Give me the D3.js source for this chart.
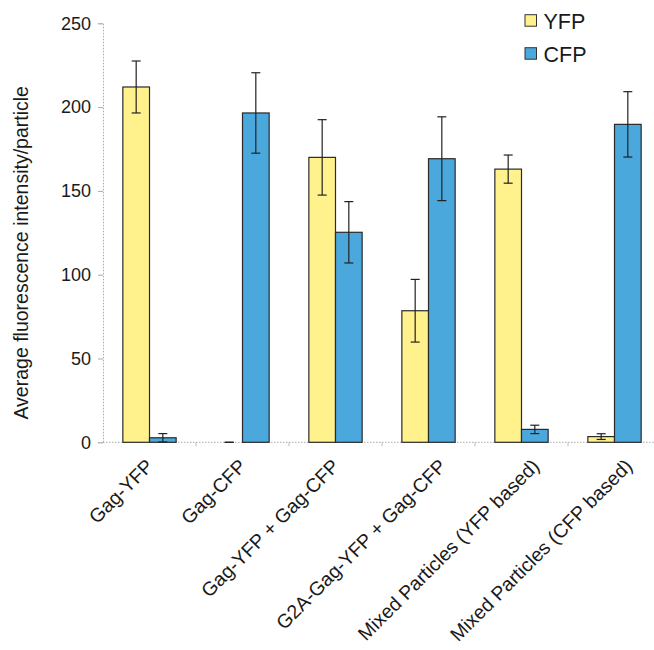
<!DOCTYPE html>
<html>
<head>
<meta charset="utf-8">
<script src="https://cdn.jsdelivr.net/npm/d3@7"></script>
<style>
  html, body { margin: 0; padding: 0; background: #fff; }
  svg { display: block; }
  text { font-family: "Liberation Sans", Arial, Helvetica, sans-serif; fill: #1a1a1a; }
</style>
</head>
<body>
<svg id="chart" width="654" height="650"></svg>
<script>
// Average fluorescence intensity per particle, YFP vs CFP channel
const categories = [
  "Gag-YFP",
  "Gag-CFP",
  "Gag-YFP + Gag-CFP",
  "G2A-Gag-YFP + Gag-CFP",
  "Mixed Particles (YFP based)",
  "Mixed Particles (CFP based)"
];
const seriesNames = ["YFP", "CFP"];
const yfpValues = [212, 0, 170, 78.5, 163, 3.4];
const yfpErrors = [15.5, 0, 22.5, 18.7, 8.4, 1.7];
const cfpValues = [2.7, 196.5, 125.3, 169.2, 7.7, 189.7];
const cfpErrors = [2.5, 24, 18.3, 25, 2.5, 19.5];
const yTicks = [0, 50, 100, 150, 200, 250];
const yLabel = "Average fluorescence intensity/particle";

const colors = { YFP: "#fff18c", CFP: "#4aa8dc" };

const rows = categories.map((c, i) => ({
  category: c,
  bars: [
    { series: "YFP", value: yfpValues[i], err: yfpErrors[i] },
    { series: "CFP", value: cfpValues[i], err: cfpErrors[i] }
  ]
}));

const svg = d3.select("#chart");
const plot = { left: 103, right: 661, top: 23.3, bottom: 442.3 };

const x0 = d3.scaleBand()
  .domain(categories)
  .range([plot.left, plot.right])
  .paddingInner(0.427)
  .paddingOuter(0.2135);
const x1 = d3.scaleBand()
  .domain(seriesNames)
  .range([0, x0.bandwidth()]);
const y = d3.scaleLinear()
  .domain([0, 250])
  .range([plot.bottom, plot.top]);

// y axis: dotted grey spine, short outer ticks
const yAxis = svg.append("g")
  .attr("transform", `translate(${plot.left},0)`)
  .call(d3.axisLeft(y).tickValues(yTicks).tickSize(5).tickPadding(7));
yAxis.select(".domain").attr("stroke", "#aaa").attr("stroke-dasharray", "1.5,1.5");
yAxis.selectAll(".tick line").attr("stroke", "#aaa");
yAxis.selectAll(".tick text")
  .attr("font-size", 18)
  .attr("fill", "#1a1a1a")
  .style("font-family", '"Liberation Sans", Arial, sans-serif');

// x axis along zero with ticks between the groups
const xAxisG = svg.append("g");
xAxisG.append("line")
  .attr("x1", plot.left).attr("x2", 654)
  .attr("y1", y(0)).attr("y2", y(0))
  .attr("stroke", "#aaa").attr("stroke-dasharray", "1.5,1.5");
const boundaries = categories.map(c => x0(c) - x0.step() * x0.paddingInner() / 2 + x0.step());
xAxisG.selectAll("line.sep")
  .data(boundaries)
  .join("line")
  .attr("class", "sep")
  .attr("x1", d => d).attr("x2", d => d)
  .attr("y1", y(0)).attr("y2", y(0) + 4)
  .attr("stroke", "#bbb");

// bars
const groups = svg.append("g").selectAll("g")
  .data(rows)
  .join("g")
  .attr("transform", d => `translate(${x0(d.category)},0)`);

groups.selectAll("rect")
  .data(d => d.bars)
  .join("rect")
  .attr("x", d => x1(d.series))
  .attr("y", d => y(d.value))
  .attr("width", x1.bandwidth())
  .attr("height", d => y(0) - y(d.value))
  .attr("fill", d => colors[d.series])
  .attr("stroke", "#2a2a2a")
  .attr("stroke-width", 1.2);

// error bars
const cap = 4.5;
const eb = groups.selectAll("g.err")
  .data(d => d.bars)
  .join("g")
  .attr("class", "err")
  .attr("stroke", "#222")
  .attr("stroke-width", 1.2);
eb.append("line")
  .attr("x1", d => x1(d.series) + x1.bandwidth() / 2)
  .attr("x2", d => x1(d.series) + x1.bandwidth() / 2)
  .attr("y1", d => y(d.value + d.err))
  .attr("y2", d => y(Math.max(0, d.value - d.err)));
eb.append("line")
  .attr("x1", d => x1(d.series) + x1.bandwidth() / 2 - cap)
  .attr("x2", d => x1(d.series) + x1.bandwidth() / 2 + cap)
  .attr("y1", d => y(d.value + d.err))
  .attr("y2", d => y(d.value + d.err));
eb.append("line")
  .attr("x1", d => x1(d.series) + x1.bandwidth() / 2 - cap)
  .attr("x2", d => x1(d.series) + x1.bandwidth() / 2 + cap)
  .attr("y1", d => y(Math.max(0, d.value - d.err)))
  .attr("y2", d => y(Math.max(0, d.value - d.err)));

// rotated category labels, right end anchored below each group
const labels = svg.append("g").selectAll("text")
  .data(categories)
  .join("text")
  .attr("font-size", 19.5)
  .attr("text-anchor", "end")
  .text(d => d);
labels.each(function (d) {
  const w = this.getComputedTextLength();
  const cx = x0(d) + x0.bandwidth() / 2 + 5 + (w > 200 ? 14 : 0);
  d3.select(this).attr("transform", `translate(${cx},${y(0) + 25}) rotate(-45)`);
});

// y axis title
svg.append("text")
  .attr("transform", `translate(28,${(plot.top + plot.bottom) / 2 + 20}) rotate(-90)`)
  .attr("text-anchor", "middle")
  .attr("font-size", 19.5)
  .text(yLabel);

// legend
const legend = svg.append("g").selectAll("g")
  .data(seriesNames)
  .join("g")
  .attr("transform", (d, i) => `translate(525,${14.7 + i * 33})`);
legend.append("rect")
  .attr("width", 11.5).attr("height", 11.5)
  .attr("fill", d => colors[d])
  .attr("stroke", "#333").attr("stroke-width", 1);
legend.append("text")
  .attr("x", 18.5).attr("y", 14.6)
  .attr("font-size", 21.5)
  .text(d => d);
</script>
</body>
</html>
